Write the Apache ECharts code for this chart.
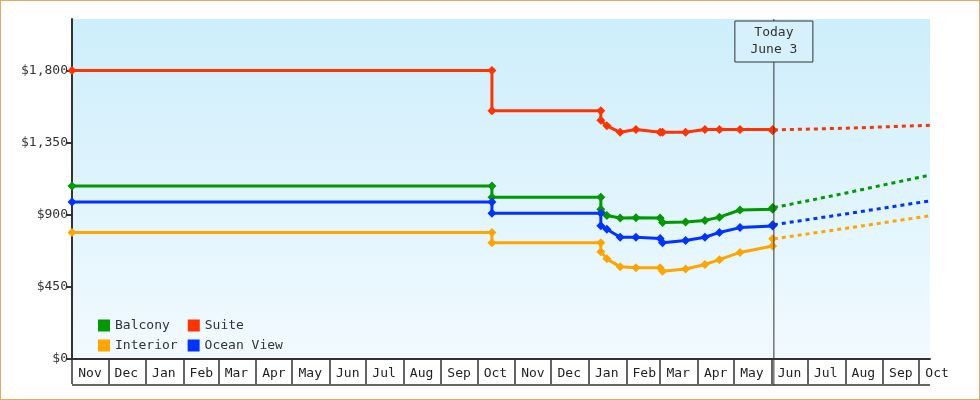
<!DOCTYPE html>
<html>
<head>
<meta charset="utf-8">
<script src="https://cdn.jsdelivr.net/npm/echarts@6/dist/echarts.min.js"></script>
<style>
  html, body { margin: 0; padding: 0; background: #fff; }
  #chart { width: 978px; height: 398px; border: 1px solid #e8a860; }
</style>
</head>
<body>
<div id="chart"></div>
<script>
// === DATA ===
const seriesNames = ['Balcony', 'Suite', 'Interior', 'Ocean View'];
const seriesColors = ['#009900', '#ff3300', '#ffa500', '#0033ff'];
const monthNames = ['Jan','Feb','Mar','Apr','May','Jun','Jul','Aug','Sep','Oct','Nov','Dec'];

const priceDates = ['2023-11-01', '2024-10-13', '2024-10-13', '2025-01-11', '2025-01-11', '2025-01-16',
  '2025-01-27', '2025-02-09', '2025-03-01', '2025-03-03', '2025-03-22', '2025-04-07', '2025-04-19',
  '2025-05-06', '2025-06-02', '2025-06-02'];
const balcony   = [1080, 1080, 1010, 1010, 935, 895, 880, 882, 880, 852, 855, 865, 885, 930, 935, 945];
const suite     = [1800, 1800, 1550, 1550, 1490, 1455, 1415, 1432, 1415, 1415, 1415, 1432, 1432, 1432, 1432, 1425];
const interior  = [790, 790, 725, 725, 670, 625, 575, 570, 570, 548, 562, 590, 620, 665, 705, 750];
const oceanView = [980, 980, 910, 910, 832, 810, 760, 760, 752, 726, 740, 760, 790, 820, 830, 838];

const forecastDates = ['2025-06-03', '2025-08-01', '2025-10-10'];
const forecast = {
  'Balcony':    [945, 1035, 1148],
  'Suite':      [1430, 1440, 1459],
  'Interior':   [750, 815, 894],
  'Ocean View': [838, 905, 987]
};
const todayDate = '2025-06-03';
const yTicks = [0, 450, 900, 1350, 1800];

// === CHART ===
const chart = echarts.init(document.getElementById('chart'));
const font = '"DejaVu Sans Mono", monospace';
const pricesBy = { 'Balcony': balcony, 'Suite': suite, 'Interior': interior, 'Ocean View': oceanView };

const series = [];
seriesNames.forEach((name, i) => {
  series.push({
    name: name, type: 'line',
    data: priceDates.map((d, k) => [d, pricesBy[name][k]]),
    symbol: 'diamond', symbolSize: 9,
    lineStyle: { width: 3, color: seriesColors[i] },
    itemStyle: { color: seriesColors[i] },
    z: 3
  });
  series.push({
    name: name + ' forecast', type: 'line', smooth: false,
    data: forecastDates.map((d, k) => [d, forecast[name][k]]),
    showSymbol: false,
    lineStyle: { width: 3, type: [4, 4], color: seriesColors[i] },
    itemStyle: { color: seriesColors[i] }
  });
});

const legendBase = {
  orient: 'horizontal', icon: 'rect', itemWidth: 12, itemHeight: 12,
  textStyle: { fontFamily: font, fontSize: 13, color: '#333' }
};

chart.setOption({
  animation: false,
  textStyle: { fontFamily: font },
  grid: {
    left: 71, right: 49, top: 18, bottom: 40, show: true, borderWidth: 0,
    backgroundColor: new echarts.graphic.LinearGradient(0, 0, 0, 1, [
      { offset: 0, color: '#cdeefb' }, { offset: 1, color: '#f2faff' }
    ])
  },
  legend: [
    Object.assign({}, legendBase, { data: ['Balcony', 'Suite'], left: 92, top: 313, itemGap: 18 }),
    Object.assign({}, legendBase, { data: ['Interior', 'Ocean View'], left: 92, top: 333, itemGap: 10 })
  ],
  xAxis: {
    type: 'time',
    min: '2023-11-01', max: '2025-10-10',
    splitNumber: 24,
    axisLine: { lineStyle: { color: '#333', width: 2 } },
    axisTick: { show: true, length: 25, lineStyle: { color: '#333', width: 1.5 } },
    splitLine: { show: false },
    axisLabel: {
      fontFamily: font, fontSize: 13, color: '#222', margin: 8,
      align: 'center', padding: [0, 0, 0, 36],
      formatter: v => monthNames[new Date(v).getMonth()],
      hideOverlap: false, showMaxLabel: false
    }
  },
  yAxis: {
    type: 'value', min: 0, max: 2122, interval: 450,
    axisLine: { show: true, lineStyle: { color: '#333', width: 2 } },
    axisTick: { show: true, length: 6, lineStyle: { color: '#333', width: 2 } },
    splitLine: { show: false },
    axisLabel: {
      fontFamily: font, fontSize: 13, color: '#333', margin: 4, showMaxLabel: false,
      formatter: v => yTicks.includes(v) ? '$' + v.toLocaleString('en-US') : ''
    }
  },
  series: series
});

// Today marker, bottom line of month boxes
const tx = chart.convertToPixel({ xAxisIndex: 0 }, new Date(todayDate).getTime());
const x0 = chart.convertToPixel({ xAxisIndex: 0 }, new Date('2023-11-01').getTime());
const x1 = chart.convertToPixel({ xAxisIndex: 0 }, new Date('2025-10-10').getTime());
chart.setOption({
  graphic: [
    { type: 'line', shape: { x1: tx, y1: 18, x2: tx, y2: 384 }, style: { stroke: '#333', lineWidth: 1 }, z: 10 },
    { type: 'rect', shape: { x: tx - 39, y: 20, width: 78, height: 41 },
      style: { fill: '#d6f1fb', stroke: '#333', lineWidth: 1 }, z: 11 },
    { type: 'text', x: tx, y: 40, z: 12,
      style: { text: 'Today\nJune 3', align: 'center', verticalAlign: 'middle',
        font: '13px "DejaVu Sans Mono", monospace', fill: '#333', lineHeight: 17 } },
    { type: 'line', shape: { x1: x0, y1: 384, x2: x1, y2: 384 }, style: { stroke: '#333', lineWidth: 1.5 }, z: 10 }
  ]
});
</script>
</body>
</html>
